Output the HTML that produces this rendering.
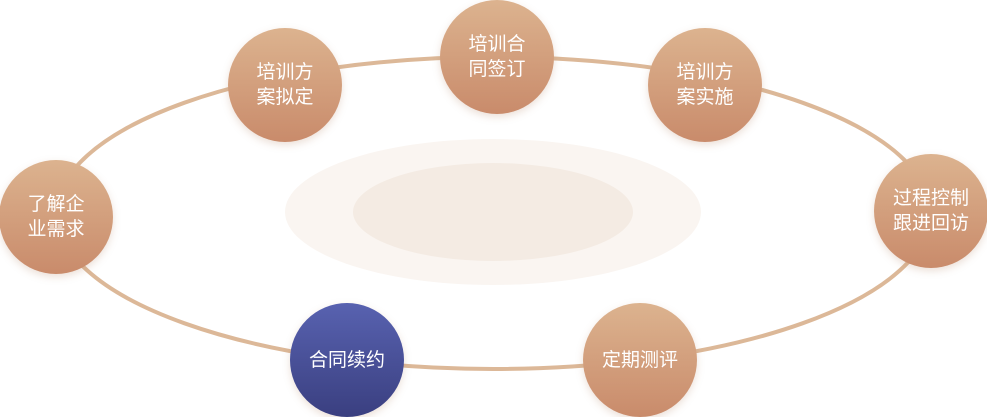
<!DOCTYPE html>
<html><head><meta charset="utf-8"><style>
html,body{margin:0;padding:0;background:#fff;}
body{width:987px;height:417px;overflow:hidden;position:relative;font-family:"Liberation Sans","Noto Sans CJK SC",sans-serif;}
.c{position:absolute;width:114px;height:114px;border-radius:50%;background:linear-gradient(180deg,#dcb38f 0%,#c98b6b 100%);color:#fff;font-size:19px;line-height:25px;display:flex;align-items:center;justify-content:center;text-align:center;box-shadow:0 3px 8px rgba(180,130,100,0.25);}
.b{background:linear-gradient(180deg,#5862b0 0%,#3a3f80 100%);}
</style></head><body>
<svg width="987" height="417" style="position:absolute;left:0;top:0">
<defs><radialGradient id="g" cx="50%" cy="50%" r="50%"><stop offset="0" stop-color="#f6ede6"/><stop offset="1" stop-color="#fbf7f3"/></radialGradient></defs>
<ellipse cx="493" cy="212" rx="208" ry="73" fill="#faf5f1"/>
<ellipse cx="493" cy="212" rx="140" ry="49" fill="#f4ebe3"/>
<ellipse cx="493.5" cy="213" rx="437" ry="156" fill="none" stroke="#dcb898" stroke-width="4"/>
</svg>
<div class="c" style="left:-1px;top:160px">了解企<br>业需求</div>
<div class="c" style="left:228px;top:28px">培训方<br>案拟定</div>
<div class="c" style="left:440px;top:0px">培训合<br>同签订</div>
<div class="c" style="left:648px;top:28px">培训方<br>案实施</div>
<div class="c" style="left:874px;top:154px">过程控制<br>跟进回访</div>
<div class="c" style="left:583px;top:303px">定期测评</div>
<div class="c b" style="left:290px;top:303px">合同续约</div>
</body></html>
